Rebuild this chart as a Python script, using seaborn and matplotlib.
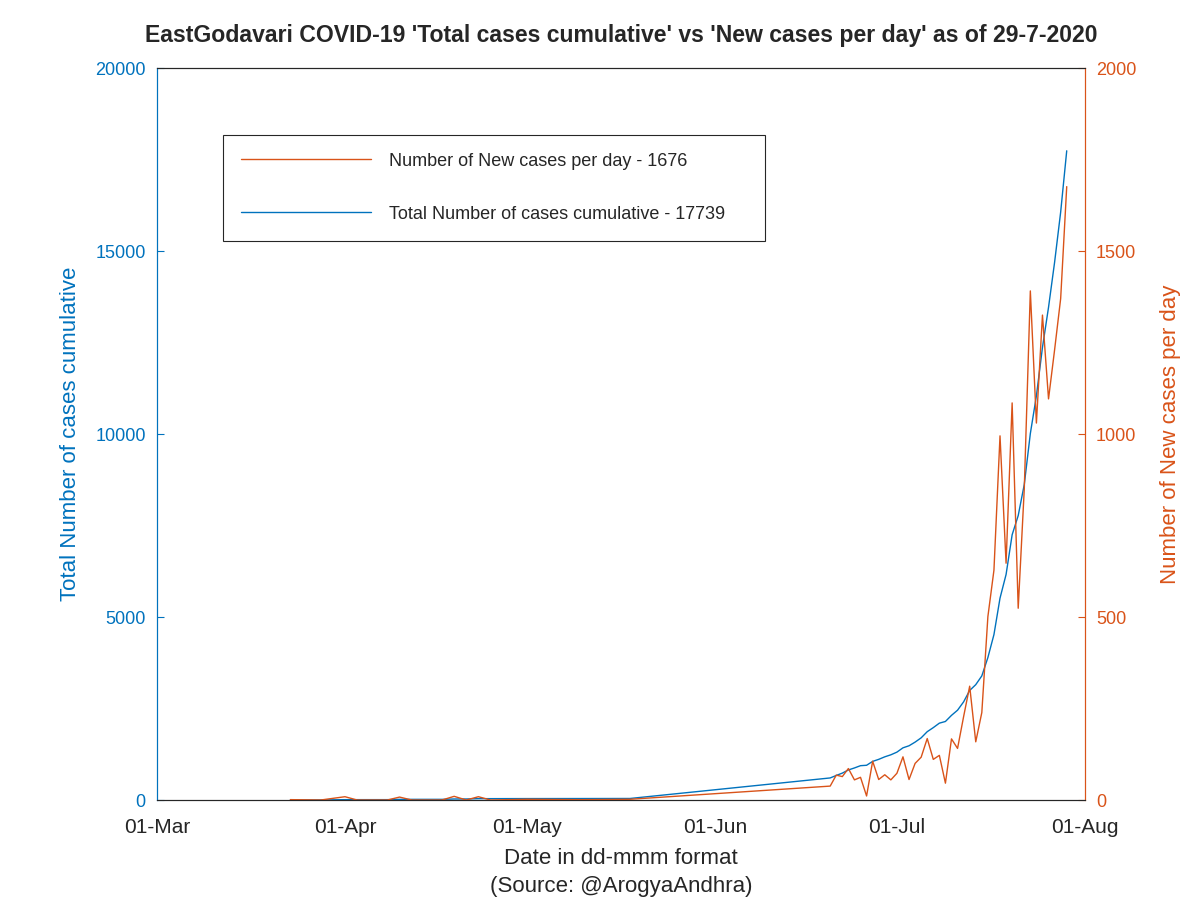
import pandas as pd
import numpy as np
import matplotlib.pyplot as plt
import matplotlib.dates as mdates
import seaborn as sns

# ====================== style ======================
sns.set_style("white")
plt.rcParams['font.family'] = ['Liberation Sans', 'DejaVu Sans']

blue = '#0072BD'
orange = '#D95319'
dark = '#262626'

# ====================== data ======================
# early reports (sparse), then a gap, then daily from 20-Jun
early_dates = ['2020-03-23', '2020-03-28', '2020-04-01', '2020-04-03', '2020-04-08',
               '2020-04-10', '2020-04-12', '2020-04-17', '2020-04-19', '2020-04-21',
               '2020-04-23', '2020-04-25', '2020-05-01', '2020-05-10', '2020-05-18']
early_new = [1, 0, 9, 0, 0, 8, 0, 0, 10, 0, 9, 0, 2, 1, 2]
early_total = [1, 1, 10, 10, 10, 18, 18, 18, 28, 28, 37, 37, 39, 40, 42]

late_new = [38, 68, 64, 86, 55, 62, 11, 106, 56, 69,
            55, 73, 118, 56, 100, 117, 168, 111, 122, 46,
            167, 141, 228, 311, 159, 239, 501, 628, 995, 647,
            1085, 524, 850, 1391, 1030, 1325, 1096, 1230, 1370, 1676]
late_total = [603, 671, 735, 821, 876, 938, 949, 1055, 1111, 1180,
              1235, 1308, 1426, 1482, 1582, 1699, 1867, 1978, 2100, 2146,
              2313, 2454, 2682, 2993, 3152, 3391, 3892, 4520, 5515, 6162,
              7247, 7771, 8621, 10012, 11042, 12367, 13463, 14693, 16063, 17739]
late_dates = pd.date_range('2020-06-20', '2020-07-29', freq='D')

df = pd.DataFrame({
    'date': list(pd.to_datetime(early_dates)) + list(late_dates),
    'new': early_new + late_new,
    'total': early_total + late_total,
})

# ====================== plot ======================
fig = plt.figure(figsize=(12, 9), dpi=100)
ax = fig.add_axes([0.1308, 0.1111, 0.7733, 0.8133])
ax2 = ax.twinx()

sns.lineplot(data=df, x='date', y='new', ax=ax2, color=orange, lw=1.0,
             label='Number of New cases per day - 1676', legend=False)
sns.lineplot(data=df, x='date', y='total', ax=ax, color=blue, lw=1.0,
             label='Total Number of cases cumulative - 17739', legend=False)

ax.set_xlim(pd.Timestamp('2020-03-01'), pd.Timestamp('2020-08-01'))
ax.set_ylim(0, 20000)
ax2.set_ylim(0, 2000)
ax.set_yticks([0, 5000, 10000, 15000, 20000])
ax2.set_yticks([0, 500, 1000, 1500, 2000])
ax.xaxis.set_major_locator(mdates.MonthLocator())
ax.xaxis.set_major_formatter(mdates.DateFormatter('%d-%b'))

ax.set_xlabel('Date in dd-mmm format\n(Source: @ArogyaAndhra)', fontsize=16, color=dark,
              labelpad=8, linespacing=1.45)
ax.set_ylabel('Total Number of cases cumulative', fontsize=16, color=blue, labelpad=10)
ax2.set_ylabel('Number of New cases per day', fontsize=16, color=orange, labelpad=17)
ax.set_title("EastGodavari COVID-19 'Total cases cumulative' vs 'New cases per day' as of 29-7-2020",
             fontsize=16.6, fontweight='bold', pad=19)

# axes colours like the original
for a in (ax, ax2):
    a.spines['top'].set_color(dark)
    a.spines['bottom'].set_color(dark)
    a.spines['left'].set_color(blue)
    a.spines['right'].set_color(orange)
ax.tick_params(axis='x', direction='in', length=5, colors=dark, labelsize=15, pad=13)
ax.tick_params(axis='y', direction='in', length=5, colors=blue, labelsize=13, pad=8)
ax2.tick_params(axis='y', direction='in', length=5, colors=orange, labelsize=13, pad=8)

# legend in one box
h1, l1 = ax2.get_legend_handles_labels()
h2, l2 = ax.get_legend_handles_labels()
leg = ax2.legend(h1 + h2, l1 + l2, loc='upper left', bbox_to_anchor=(0.071, 0.760, 0.584, 0.149),
                 mode='expand', borderaxespad=0, fontsize=13, handlelength=7.2, handletextpad=1.0,
                 labelspacing=2.0, borderpad=1.0, fancybox=False, edgecolor=dark, framealpha=1)
leg.get_frame().set_linewidth(0.8)

plt.savefig('out.png', dpi=100)
plt.close()
